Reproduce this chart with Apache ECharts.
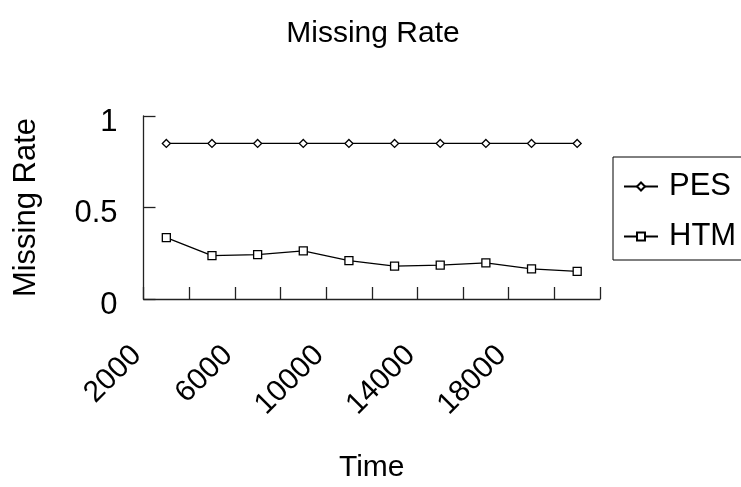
<!DOCTYPE html>
<html>
<head>
<meta charset="utf-8">
<script src="https://cdn.jsdelivr.net/npm/echarts@6/dist/echarts.min.js"></script>
<style>
  html, body { margin: 0; padding: 0; background: #fff; }
  #chart { width: 741px; height: 487px; }
</style>
</head>
<body>
<div id="chart"></div>
<script>
// Sample times (x categories) and the missing rate of each method
const times = ['2000', '4000', '6000', '8000', '10000', '12000', '14000', '16000', '18000', '20000'];
const pesRate = [0.85, 0.85, 0.85, 0.85, 0.85, 0.85, 0.85, 0.85, 0.85, 0.85];
const htmRate = [0.335, 0.237, 0.243, 0.263, 0.21, 0.18, 0.185, 0.197, 0.165, 0.151];
const yTicks = { min: 0, max: 1, interval: 0.5 };

const FONT = '"Liberation Sans", Arial, sans-serif';
const INK = '#000';

const chart = echarts.init(document.getElementById('chart'), null, { renderer: 'canvas' });

chart.setOption({
  animation: false,
  backgroundColor: '#fff',
  textStyle: { fontFamily: FONT, color: INK },
  title: {
    text: 'Missing Rate',
    left: 368, top: 14,
    textAlign: 'center',
    textStyle: { fontFamily: FONT, fontSize: 30, fontWeight: 'normal', color: INK }
  },
  grid: { left: 143.5, right: 141, top: 116, bottom: 188, containLabel: false },
  legend: {
    orient: 'vertical',
    left: 613, top: 157,
    padding: [14, 10, 8, 10],
    itemGap: 19,
    itemWidth: 34,
    itemHeight: 10,
    borderColor: '#000',
    borderWidth: 1,
    textStyle: { fontFamily: FONT, fontSize: 31, color: INK, lineHeight: 31, padding: [0, 0, 0, 6] },
    data: ['PES', 'HTM']
  },
  xAxis: {
    type: 'category',
    data: times,
    boundaryGap: true,
    name: 'Time',
    nameLocation: 'middle',
    nameGap: 154,
    nameTextStyle: { fontFamily: FONT, fontSize: 30, color: INK },
    axisLine: { lineStyle: { color: '#222', width: 1.3 } },
    axisTick: { show: true, inside: true, length: 12, interval: 0, lineStyle: { color: '#222', width: 1.3 } },
    axisLabel: {
      interval: 1,
      rotate: 45,
      margin: 22,
      padding: [0, 42, 0, 0],
      fontFamily: FONT, fontSize: 30, color: INK
    },
    splitLine: { show: false }
  },
  yAxis: {
    type: 'value',
    min: yTicks.min, max: yTicks.max, interval: yTicks.interval,
    name: 'Missing Rate',
    nameLocation: 'middle',
    nameGap: 102,
    nameTextStyle: { fontFamily: FONT, fontSize: 31, color: INK },
    axisLine: { show: true, lineStyle: { color: '#222', width: 1.3 } },
    axisTick: { show: true, inside: true, length: 12, lineStyle: { color: '#222', width: 1.3 } },
    // labels sit a little below their ticks
    axisLabel: { margin: 26, fontFamily: FONT, fontSize: 31, color: INK, verticalAlign: 'top', lineHeight: 12 },
    splitLine: { show: false }
  },
  series: [
    {
      name: 'PES',
      type: 'line',
      data: pesRate,
      symbol: 'diamond',
      symbolSize: [8, 8],
      lineStyle: { color: INK, width: 1.3 },
      itemStyle: { color: '#fff', borderColor: INK, borderWidth: 1.3 }
    },
    {
      name: 'HTM',
      type: 'line',
      data: htmRate,
      symbol: 'rect',
      symbolSize: [8, 8],
      lineStyle: { color: INK, width: 1.3 },
      itemStyle: { color: '#fff', borderColor: INK, borderWidth: 1.3 }
    }
  ]
});
</script>
</body>
</html>
